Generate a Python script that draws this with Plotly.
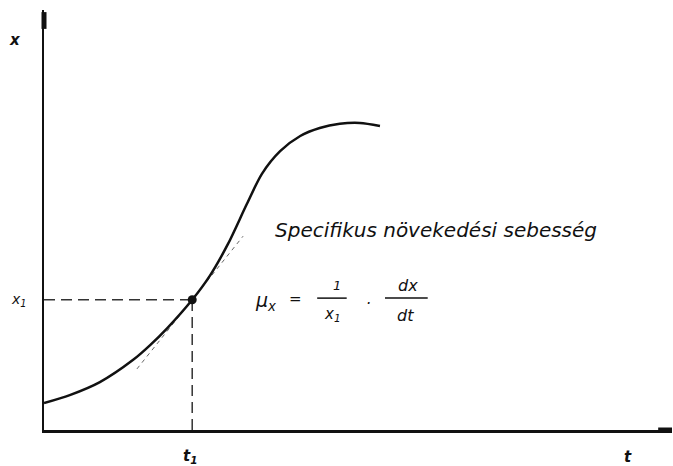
import plotly.graph_objects as go

# Growth curve x(t): sigmoid-shaped biomass curve
t_curve = [0, 0.41, 0.89, 1.42, 1.69, 1.96, 2.36, 2.64, 2.93, 3.23, 3.47, 3.76, 4.08, 4.39, 4.71, 5.03, 5.35]
x_curve = [0.64, 0.83, 1.14, 1.67, 2.02, 2.42, 3.10, 3.67, 4.43, 5.38, 6.10, 6.64, 7.00, 7.19, 7.29, 7.31, 7.24]

# Selected point (t1, x1) and the slope dx/dt of the tangent there
t1 = 2.36
x1 = 3.10
slope_dxdt = 1.87
tangent_t = [1.48, 3.17]
tangent_x = [x1 + slope_dxdt * (t - t1) for t in tangent_t]

# Axis labels
label_x = "x"
label_t = "t"
label_x1 = "x<sub>1</sub>"
label_t1 = "t<sub>1</sub>"
caption = "Specifikus növekedési sebesség"

FONT = "DejaVu Sans"
INK = "#111111"

fig = go.Figure()

# dashed guides from the axes to the point
fig.add_trace(go.Scatter(x=[0, t1], y=[x1, x1], mode="lines",
                         line=dict(color="#333333", width=1.5, dash="11px,6px"),
                         hoverinfo="skip"))
fig.add_trace(go.Scatter(x=[t1, t1], y=[0, x1], mode="lines",
                         line=dict(color="#333333", width=1.5, dash="11px,6px"),
                         hoverinfo="skip"))

# tangent line at t1
fig.add_trace(go.Scatter(x=tangent_t, y=tangent_x, mode="lines",
                         line=dict(color="#666666", width=1, dash="4px,4px"),
                         hoverinfo="skip"))

# growth curve
fig.add_trace(go.Scatter(x=t_curve, y=x_curve, mode="lines",
                         line=dict(color=INK, width=2.5, shape="spline", smoothing=0.8),
                         hoverinfo="skip"))

# the point itself
fig.add_trace(go.Scatter(x=[t1], y=[x1], mode="markers",
                         marker=dict(color=INK, size=9), hoverinfo="skip"))


def txt(x, y, text, size=15, xanchor="center", yanchor="middle", bold=False):
    return dict(x=x, y=y, xref="paper", yref="paper", text=text, showarrow=False,
                xanchor=xanchor, yanchor=yanchor,
                font=dict(family=FONT, size=size, color=INK, style="italic",
                          weight="bold" if bold else "normal"))


annotations = [
    txt(-0.046, 0.929, label_x, size=15, bold=True),
    txt(-0.040, 0.310, label_x1, size=14),
    txt(0.232, -0.064, label_t1, size=15, bold=True),
    txt(0.930, -0.064, label_t, size=15, bold=True),
    txt(0.365, 0.476, caption, size=20, xanchor="left"),
    # mu_x = 1/x1 * dx/dt
    txt(0.333, 0.305, "μ<sub>x</sub>", size=19, xanchor="left"),
    txt(0.400, 0.312, "=", size=15),
    txt(0.467, 0.343, "1", size=13),
    txt(0.460, 0.274, "x<sub>1</sub>", size=15),
    txt(0.516, 0.300, "·", size=15),
    txt(0.580, 0.343, "dx", size=16),
    txt(0.576, 0.272, "dt", size=16),
]

shapes = [
    # fraction bars
    dict(type="line", xref="paper", yref="paper", x0=0.435, x1=0.482, y0=0.314, y1=0.314,
         line=dict(color=INK, width=1.5)),
    dict(type="line", xref="paper", yref="paper", x0=0.543, x1=0.611, y0=0.314, y1=0.314,
         line=dict(color=INK, width=1.5)),
    # arrow tips on the axes
    dict(type="line", xref="paper", yref="paper", x0=0.0, x1=0.0, y0=0.955, y1=0.995,
         line=dict(color=INK, width=5)),
    dict(type="line", xref="paper", yref="paper", x0=0.978, x1=1.0, y0=0.0, y1=0.0,
         line=dict(color=INK, width=5)),
]

fig.update_layout(
    width=673, height=466,
    margin=dict(l=44, r=1, t=10, b=36),
    paper_bgcolor="white", plot_bgcolor="white",
    showlegend=False,
    annotations=annotations,
    shapes=shapes,
    xaxis=dict(range=[0, 10], showgrid=False, zeroline=False, showticklabels=False,
               ticks="", showline=True, linecolor=INK, linewidth=3),
    yaxis=dict(range=[0, 10], showgrid=False, zeroline=False, showticklabels=False,
               ticks="", showline=True, linecolor=INK, linewidth=2),
)

fig.write_html("out.html")
